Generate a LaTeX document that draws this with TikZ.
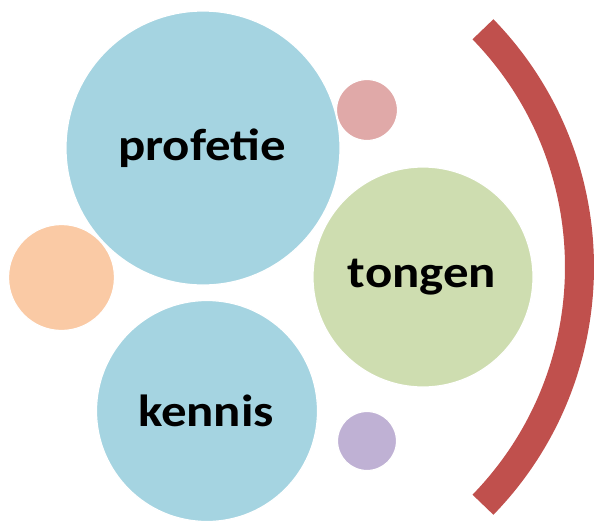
\documentclass[tikz,border=0pt]{standalone}
\usepackage{fontspec}
\usepackage{graphicx}
\setmainfont{Carlito}
\definecolor{cblue}{HTML}{A5D4E1}
\definecolor{cpink}{HTML}{E0A9A8}
\definecolor{cgreen}{HTML}{CEDDB0}
\definecolor{corange}{HTML}{FACAA5}
\definecolor{cpurple}{HTML}{BFB1D4}
\definecolor{cred}{HTML}{C0504D}
\newcommand{\bubtext}[1]{\scalebox{1.13}[1]{\bfseries\fontsize{45}{48}\selectfont #1}}
\begin{document}
\begin{tikzpicture}[x=1pt,y=-1pt,
  bubble/.style={circle, draw=white, line width=1.2pt, inner sep=0pt},
  label/.style={text=black, inner sep=0pt}]
\useasboundingbox (0,0) rectangle (595,523);
\node[bubble, fill=cblue, minimum size=274pt] (prof) at (203,148) {};
\node[label] at (202,148) {\bubtext{profetie}};
\node[bubble, fill=cpink, minimum size=61pt] (pink) at (367,110) {};
\node[bubble, fill=cgreen, minimum size=220pt] (tong) at (423,277) {};
\node[label] at (422,277) {\bubtext{tongen}};
\node[bubble, fill=corange, minimum size=106pt] (orange) at (61.5,277.5) {};
\node[bubble, fill=cblue, minimum size=221pt] (kenn) at (207,411) {};
\node[label] at (206,411) {\bubtext{kennis}};
\node[bubble, fill=cpurple, minimum size=59pt] (purple) at (367,441) {};
\coordinate (arcc) at (238.5,267);
\draw[cred, line width=29pt] ([shift={(-44.2:341)}]arcc) arc[start angle=-44.2, end angle=44.2, radius=341];
\end{tikzpicture}
\end{document}
